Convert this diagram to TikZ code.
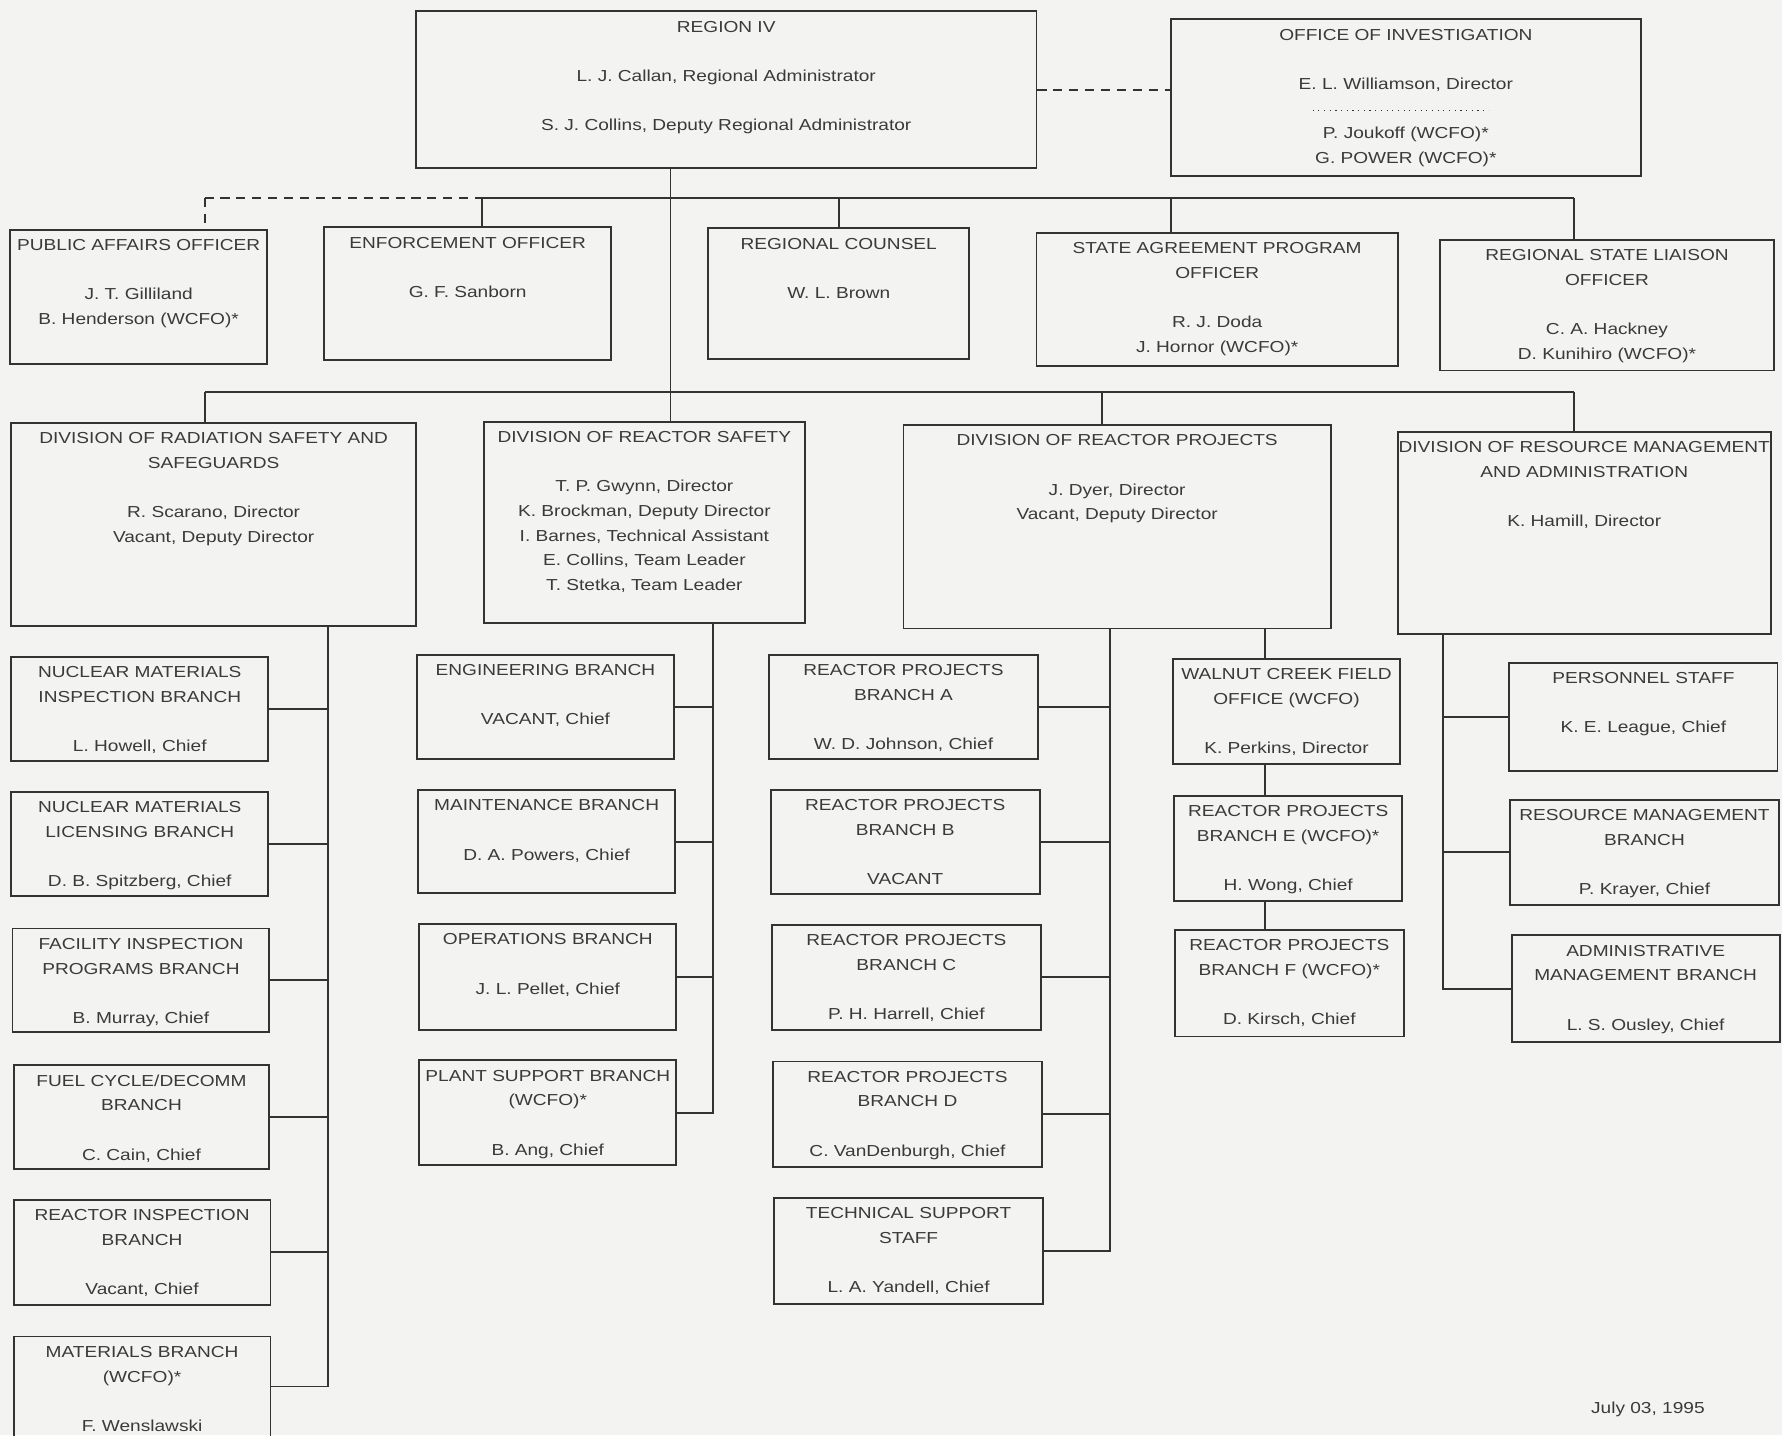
\documentclass[tikz,border=0pt]{standalone}
\usepackage{fontspec}
\setmainfont{Liberation Sans}[FakeStretch=1.2]
\usetikzlibrary{fit}
\definecolor{ln}{HTML}{333333}
\definecolor{tx}{HTML}{3A3A3A}
\definecolor{bg}{HTML}{F3F3F2}
\def\gp{10.85pt}
\tikzset{
  box/.style={draw=ln, line width=0.85pt, inner sep=0pt},
  lbl/.style={text=tx, font=\fontsize{7}{10.85}\selectfont, align=center, inner sep=0pt, anchor=north},
  conn/.style={draw=ln, line width=0.85pt},
  dconn/.style={conn, dash pattern=on 4pt off 3pt},
}
\newcommand\orgbox[6]{%
  \node[box, fit={(#2,#3) (#4,#5)}] (#1) {};
  \node[lbl] (#1-t) at ([yshift=-4.5pt]#1.north) {#6};
}
\begin{document}
\begin{tikzpicture}[x=0.5pt,y=-0.5pt]
\fill[bg] (0,0) rectangle (1568,1263);
\useasboundingbox (0,0) rectangle (1568,1263);
\clip (0,0) rectangle (1568,1263);

% top
\orgbox{region}{366}{10}{912}{148}{REGION IV\\[\gp] L. J. Callan, Regional Administrator\\[\gp] S. J. Collins, Deputy Regional Administrator}
\orgbox{oi}{1030}{17}{1444}{155}{OFFICE OF INVESTIGATION\\[\gp] E. L. Williamson, Director\\[\gp] P. Joukoff (WCFO)*\\ G. POWER (WCFO)*}
\draw[ln, dotted, line width=0.5pt] (1155,97) -- (1310,97);

% staff
\orgbox{pao}{9}{202}{235}{320}{PUBLIC AFFAIRS OFFICER\\[\gp] J. T. Gilliland\\ B. Henderson (WCFO)*}
\orgbox{eo}{285}{200}{538}{317}{ENFORCEMENT OFFICER\\[\gp] G. F. Sanborn}
\orgbox{rc}{623}{201}{853}{316}{REGIONAL COUNSEL\\[\gp] W. L. Brown}
\orgbox{sap}{912}{205}{1230}{322}{STATE AGREEMENT PROGRAM\\ OFFICER\\[\gp] R. J. Doda\\ J. Hornor (WCFO)*}
\orgbox{rsl}{1267}{211}{1561}{326}{REGIONAL STATE LIAISON\\ OFFICER\\[\gp] C. A. Hackney\\ D. Kunihiro (WCFO)*}

% divisions
\orgbox{drss}{10}{372}{366}{551}{DIVISION OF RADIATION SAFETY AND\\ SAFEGUARDS\\[\gp] R. Scarano, Director\\ Vacant, Deputy Director}
\orgbox{drs}{426}{371}{708}{548}{DIVISION OF REACTOR SAFETY\\[\gp] T. P. Gwynn, Director\\ K. Brockman, Deputy Director\\ I. Barnes, Technical Assistant\\ E. Collins, Team Leader\\ T. Stetka, Team Leader}
\orgbox{drp}{795}{374}{1171}{553}{DIVISION OF REACTOR PROJECTS\\[\gp] J. Dyer, Director\\ Vacant, Deputy Director}
\orgbox{drma}{1230}{380}{1558}{558}{DIVISION OF RESOURCE MANAGEMENT\\ AND ADMINISTRATION\\[\gp] K. Hamill, Director}

% DRSS branches
\orgbox{nmib}{10}{578}{236}{670}{NUCLEAR MATERIALS\\ INSPECTION BRANCH\\[\gp] L. Howell, Chief}
\orgbox{nmlb}{10}{697}{236}{788}{NUCLEAR MATERIALS\\ LICENSING BRANCH\\[\gp] D. B. Spitzberg, Chief}
\orgbox{fipb}{11}{817}{237}{908}{FACILITY INSPECTION\\ PROGRAMS BRANCH\\[\gp] B. Murray, Chief}
\orgbox{fcdb}{12}{937}{237}{1029}{FUEL CYCLE/DECOMM\\ BRANCH\\[\gp] C. Cain, Chief}
\orgbox{rib}{12}{1056}{238}{1148}{REACTOR INSPECTION\\ BRANCH\\[\gp] Vacant, Chief}
\orgbox{mb}{12}{1176}{238}{1300}{MATERIALS BRANCH\\ (WCFO)*\\[\gp] F. Wenslawski}

% DRS branches
\orgbox{eng}{367}{576}{593}{668}{ENGINEERING BRANCH\\[\gp] VACANT, Chief}
\orgbox{maint}{368}{695}{594}{786}{MAINTENANCE BRANCH\\[\gp] D. A. Powers, Chief}
\orgbox{ops}{369}{813}{595}{906}{OPERATIONS BRANCH\\[\gp] J. L. Pellet, Chief}
\orgbox{psb}{369}{933}{595}{1025}{PLANT SUPPORT BRANCH\\ (WCFO)*\\[\gp] B. Ang, Chief}

% DRP branches
\orgbox{rpa}{677}{576}{913}{668}{REACTOR PROJECTS\\ BRANCH A\\[\gp] W. D. Johnson, Chief}
\orgbox{rpb}{678}{695}{915}{787}{REACTOR PROJECTS\\ BRANCH B\\[\gp] VACANT}
\orgbox{rpc}{679}{814}{916}{906}{REACTOR PROJECTS\\ BRANCH C\\[\gp] P. H. Harrell, Chief}
\orgbox{rpd}{680}{934}{917}{1027}{REACTOR PROJECTS\\ BRANCH D\\[\gp] C. VanDenburgh, Chief}
\orgbox{tss}{681}{1054}{918}{1147}{TECHNICAL SUPPORT\\ STAFF\\[\gp] L. A. Yandell, Chief}

% WCFO column
\orgbox{wcfo}{1032}{580}{1232}{672}{WALNUT CREEK FIELD\\ OFFICE (WCFO)\\[\gp] K. Perkins, Director}
\orgbox{rpe}{1033}{700}{1234}{793}{REACTOR PROJECTS\\ BRANCH E (WCFO)*\\[\gp] H. Wong, Chief}
\orgbox{rpf}{1034}{818}{1235}{912}{REACTOR PROJECTS\\ BRANCH F (WCFO)*\\[\gp] D. Kirsch, Chief}

% DRMA branches
\orgbox{ps}{1328}{583}{1564}{678}{PERSONNEL STAFF\\[\gp] K. E. League, Chief}
\orgbox{rmb}{1329}{704}{1565}{796}{RESOURCE MANAGEMENT\\ BRANCH\\[\gp] P. Krayer, Chief}
\orgbox{amb}{1330}{823}{1566}{917}{ADMINISTRATIVE\\ MANAGEMENT BRANCH\\[\gp] L. S. Ousley, Chief}

\node[lbl, anchor=center] (date) at (1450,1240) {July 03, 1995};

% connectors
\coordinate (sbusL) at (180,174);
\coordinate (sbusE) at (424,174);
\coordinate (sapT) at (1030,174);
\coordinate (sbusR) at (1385,174);
\coordinate (trunk) at (590,345);
\coordinate (dbusL) at (180,345);
\coordinate (drpT) at (970,345);
\coordinate (dbusR) at (1385,345);

\draw[dconn] (region.east) -- (region.east -| oi.west);
\draw[conn] (region.south -| trunk) -- (trunk);
\draw[dconn] (sbusL) -- (sbusE);
\draw[conn] (sbusE) -- (sbusR);
\draw[dconn] (sbusL) -- (sbusL |- pao.north);
\draw[conn] (sbusE) -- (sbusE |- eo.north);
\draw[conn] (rc.north) -- (rc.north |- sbusE);
\draw[conn] (sapT) -- (sapT |- sap.north);
\draw[conn] (sbusR) -- (sbusR |- rsl.north);

\draw[conn] (dbusL) -- (dbusR);
\draw[conn] (dbusL) -- (dbusL |- drss.north);
\draw[conn] (trunk) -- (trunk |- drs.north);
\draw[conn] (drpT) -- (drpT |- drp.north);
\draw[conn] (dbusR) -- (dbusR |- drma.north);

% spines
\coordinate (sp1) at (289,600);
\coordinate (sp2) at (627,600);
\coordinate (sp3) at (977,600);
\coordinate (wx) at (1113,600);
\coordinate (sp4) at (1270,600);
\coordinate (mbc) at (238,1220);

\draw[conn] (drss.south -| sp1) -- (mbc -| sp1) -- (mbc);
\foreach \b in {nmib,nmlb,fipb,fcdb,rib} \draw[conn] (\b.east) -- (\b.east -| sp1);
\draw[conn] (drs.south -| sp2) -- (psb.east -| sp2) -- (psb.east);
\foreach \b in {eng,maint,ops} \draw[conn] (\b.east) -- (\b.east -| sp2);
\draw[conn] (drp.south -| sp3) -- (tss.east -| sp3) -- (tss.east);
\foreach \b in {rpa,rpb,rpc,rpd} \draw[conn] (\b.east) -- (\b.east -| sp3);
\draw[conn] (drp.south -| wx) -- (wcfo.north -| wx);
\draw[conn] (wcfo.south -| wx) -- (rpe.north -| wx);
\draw[conn] (rpe.south -| wx) -- (rpf.north -| wx);
\draw[conn] (drma.south -| sp4) -- (amb.west -| sp4) -- (amb.west);
\foreach \b in {ps,rmb} \draw[conn] (\b.west) -- (\b.west -| sp4);
\end{tikzpicture}
\end{document}
